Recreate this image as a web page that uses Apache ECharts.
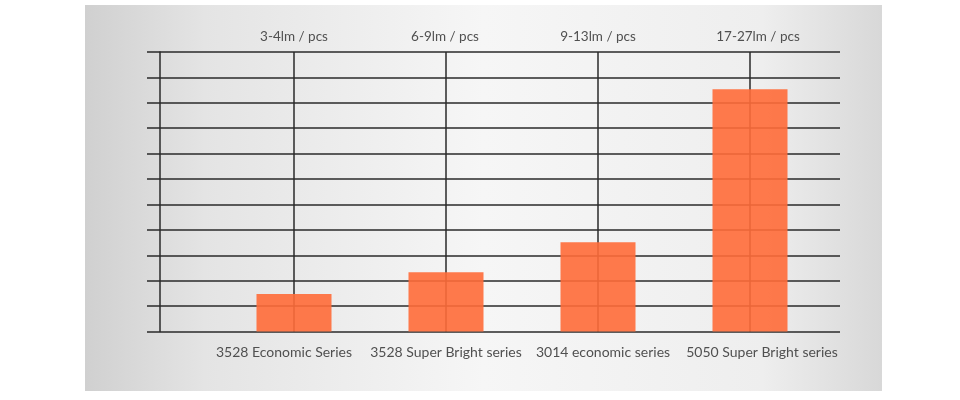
<!DOCTYPE html>
<html>
<head>
<meta charset="utf-8">
<script src="https://cdn.jsdelivr.net/npm/echarts@6/dist/echarts.min.js"></script>
<style>
  html, body { margin: 0; padding: 0; background: #fff; }
  #main { width: 960px; height: 400px; }
</style>
</head>
<body>
<div id="main"></div>
<script>
// series names under the bars
var categories = ['3528 Economic Series', '3528 Super Bright series', '3014 economic series', '5050 Super Bright series'];
// lumen ranges printed above each column
var lumenLabels = ['3-4lm / pcs', '6-9lm / pcs', '9-13lm / pcs', '17-27lm / pcs'];
// bar heights, in grid steps
var barValues = [1.48, 2.33, 3.51, 9.53];

var lineColor = '#2a2a2a';
var textColor = '#505050';
var font = 'Lato';

// the labels in the picture are not quite centred on their columns
function shiftedLabels(shifts) {
    var rich = {};
    shifts.forEach(function (s, i) {
        rich['c' + i] = { padding: s < 0 ? [0, -2 * s, 0, 0] : [0, 0, 0, 2 * s] };
    });
    return {
        formatter: function (value, index) { return '{c' + index + '|' + value + '}'; },
        rich: rich
    };
}
var bottomShift = shiftedLabels([-10, 0, 5, 12]);
var topShift = shiftedLabels([0, -1, 0, 8]);

var myChart = echarts.init(document.getElementById('main'));

var option = {
    backgroundColor: '#ffffff',
    animation: false,
    graphic: [{
        type: 'rect',
        z: -10,
        shape: { x: 85, y: 5, width: 797, height: 386 },
        style: {
            fill: new echarts.graphic.LinearGradient(0, 0, 1, 0, [
                { offset: 0, color: '#d0d0d0' },
                { offset: 0.15, color: '#e4e4e4' },
                { offset: 0.5, color: '#f6f6f6' },
                { offset: 0.85, color: '#eeeeee' },
                { offset: 1, color: '#d8d8d8' }
            ])
        }
    }],
    grid: [
        { left: 160, right: 120, top: 52, bottom: 68.5 },
        { left: 294, right: 210, top: 52, bottom: 68.5 }
    ],
    xAxis: [
        { gridIndex: 0, type: 'category', data: categories, show: false },
        {
            gridIndex: 1,
            type: 'category',
            data: categories,
            boundaryGap: false,
            axisLine: { show: false },
            axisTick: { show: false },
            splitLine: { show: true, lineStyle: { color: lineColor, width: 1.5 } },
            axisLabel: {
                interval: 0, margin: 14, color: textColor, fontSize: 14, fontFamily: font,
                formatter: bottomShift.formatter, rich: bottomShift.rich
            }
        },
        {
            gridIndex: 1,
            type: 'category',
            position: 'top',
            data: lumenLabels,
            boundaryGap: false,
            axisLine: { show: false },
            axisTick: { show: false },
            axisLabel: {
                interval: 0, margin: 8, color: textColor, fontSize: 13.5, fontFamily: font,
                formatter: topShift.formatter, rich: topShift.rich
            }
        }
    ],
    yAxis: [
        {
            gridIndex: 0,
            type: 'value',
            min: 0,
            max: 11,
            interval: 1,
            axisLine: { show: true, lineStyle: { color: lineColor, width: 1.5 } },
            axisTick: { show: true, length: 13, lineStyle: { color: lineColor, width: 1.5 } },
            axisLabel: { show: false },
            splitLine: { show: true, lineStyle: { color: lineColor, width: 1.5 } }
        },
        {
            gridIndex: 1,
            type: 'value',
            min: 0,
            max: 11,
            show: false
        }
    ],
    series: [{
        type: 'bar',
        xAxisIndex: 1,
        yAxisIndex: 1,
        data: barValues,
        barWidth: 75,
        clip: false,
        z: 3,
        itemStyle: { color: 'rgba(255, 108, 56, 0.9)' }
    }]
};

myChart.setOption(option);
</script>
</body>
</html>
